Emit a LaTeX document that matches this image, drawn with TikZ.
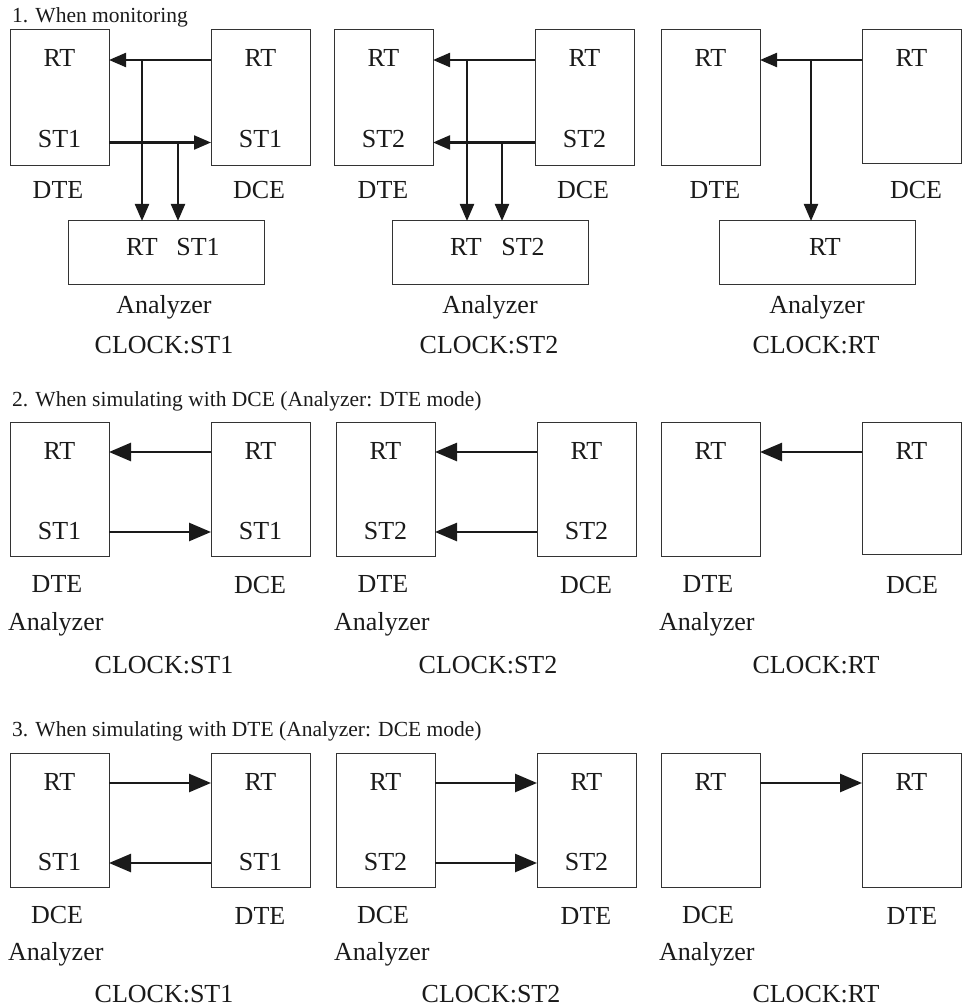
\documentclass[tikz,border=0pt]{standalone}
\usepackage{fontspec}
\setmainfont{Liberation Serif}
\usetikzlibrary{arrows.meta}
\definecolor{ink}{HTML}{1A1A1A}
\definecolor{edge}{HTML}{333333}
\begin{document}
\begin{tikzpicture}[x=1pt,y=-1pt,
  box/.style={draw=edge, line width=1pt, inner sep=0pt, outer sep=0pt, anchor=north west},
  lbl/.style={text=ink, font=\fontsize{26}{30}\selectfont, inner sep=0pt, anchor=base},
  lblw/.style={lbl, anchor=base west},
  ttl/.style={text=ink, font=\fontsize{21.5}{25}\selectfont, inner sep=0pt, anchor=base west},
  monarr/.style={draw=ink, line width=2.2pt, -{Triangle[length=17pt,width=14pt]}},
  simarr/.style={draw=ink, line width=2.6pt, -{Triangle[length=22pt,width=18pt]}},
  dev/.style={box, minimum width=99pt, minimum height=136pt},
  devs/.style={box, minimum width=99pt, minimum height=134pt},
  anl/.style={box, minimum width=196pt, minimum height=63pt}]
\useasboundingbox (0,0) rectangle (962,1008);

% ---------------- Section titles ----------------
\node[ttl] (t1) at (12,22.7) {1. When monitoring};
\node[ttl] (t2) at (12,406.7) {2. When simulating with DCE (Analyzer: DTE mode)};
\node[ttl] (t3) at (12,736.7) {3. When simulating with DTE (Analyzer: DCE mode)};

% ================= Section 1 =================
% panel 1
\begin{scope}[shift={(10,30)}]
\node[dev] (m1L) at (0,0) {};
\node[dev] (m1R) at (201,0) {};
\node[anl] (m1A) at (58,191) {};
\node[lbl] (m1Lrt) at (49.5,37) {RT};
\node[lbl] (m1Lst) at (49.5,117.5) {ST1};
\node[lbl] (m1Rrt) at (250.5,37) {RT};
\node[lbl] (m1Rst) at (250.5,117.5) {ST1};
\node[lbl] (m1Art) at (132,225) {RT};
\node[lbl] (m1Ast) at (188,225) {ST1};
\node[lbl] (m1Ln) at (48,169) {DTE};
\node[lbl] (m1Rn) at (249,169) {DCE};
\node[lbl] (m1An) at (154,283) {Analyzer};
\node[lbl] (m1c) at (154,323) {CLOCK:ST1};
\coordinate (m1j1) at (132,30);
\coordinate (m1j2) at (168,112.5);
\draw[monarr] ([yshift=-30pt]m1R.north west) -- ([yshift=-30pt]m1L.north east);
\draw[monarr] ([yshift=-112.5pt]m1L.north east) -- ([yshift=-112.5pt]m1R.north west);
\draw[monarr] (m1j1) -- (m1j1 |- m1A.north);
\draw[monarr] (m1j2) -- (m1j2 |- m1A.north);
\end{scope}
% panel 2
\begin{scope}[shift={(334,30)}]
\node[dev] (m2L) at (0,0) {};
\node[dev] (m2R) at (201,0) {};
\node[anl] (m2A) at (58,191) {};
\node[lbl] (m2Lrt) at (49.5,37) {RT};
\node[lbl] (m2Lst) at (49.5,117.5) {ST2};
\node[lbl] (m2Rrt) at (250.5,37) {RT};
\node[lbl] (m2Rst) at (250.5,117.5) {ST2};
\node[lbl] (m2Art) at (132,225) {RT};
\node[lbl] (m2Ast) at (189,225) {ST2};
\node[lbl] (m2Ln) at (49,169) {DTE};
\node[lbl] (m2Rn) at (249,169) {DCE};
\node[lbl] (m2An) at (156,283) {Analyzer};
\node[lbl] (m2c) at (155,323) {CLOCK:ST2};
\coordinate (m2j1) at (133,30);
\coordinate (m2j2) at (168,112.5);
\draw[monarr] ([yshift=-30pt]m2R.north west) -- ([yshift=-30pt]m2L.north east);
\draw[monarr] ([yshift=-112.5pt]m2R.north west) -- ([yshift=-112.5pt]m2L.north east);
\draw[monarr] (m2j1) -- (m2j1 |- m2A.north);
\draw[monarr] (m2j2) -- (m2j2 |- m2A.north);
\end{scope}
% panel 3
\begin{scope}[shift={(661,30)}]
\node[dev] (m3L) at (0,0) {};
\node[devs] (m3R) at (201,0) {};
\node[anl] (m3A) at (58,191) {};
\node[lbl] (m3Lrt) at (49.5,37) {RT};
\node[lbl] (m3Rrt) at (250.5,37) {RT};
\node[lbl] (m3Art) at (164,225) {RT};
\node[lbl] (m3Ln) at (54,169) {DTE};
\node[lbl] (m3Rn) at (255,169) {DCE};
\node[lbl] (m3An) at (156,283) {Analyzer};
\node[lbl] (m3c) at (155,323) {CLOCK:RT};
\coordinate (m3j1) at (150,30);
\draw[monarr] ([yshift=-30pt]m3R.north west) -- ([yshift=-30pt]m3L.north east);
\draw[monarr] (m3j1) -- (m3j1 |- m3A.north);
\end{scope}

% ================= Section 2 =================
\begin{scope}[shift={(10,422)}]
\node[devs] (d1L) at (0,0) {};
\node[devs] (d1R) at (201,0) {};
\node[lbl] (d1Lrt) at (49.5,37) {RT};
\node[lbl] (d1Lst) at (49.5,117.5) {ST1};
\node[lbl] (d1Rrt) at (250.5,37) {RT};
\node[lbl] (d1Rst) at (250.5,117.5) {ST1};
\node[lbl] (d1Ln) at (47,170) {DTE};
\node[lbl] (d1Rn) at (250,171) {DCE};
\node[lblw] (d1An) at (-2,208) {Analyzer};
\node[lbl] (d1c) at (154,251) {CLOCK:ST1};
\draw[simarr] ([yshift=-30pt]d1R.north west) -- ([yshift=-30pt]d1L.north east);
\draw[simarr] ([yshift=-110pt]d1L.north east) -- ([yshift=-110pt]d1R.north west);
\end{scope}
\begin{scope}[shift={(336,422)}]
\node[devs] (d2L) at (0,0) {};
\node[devs] (d2R) at (201,0) {};
\node[lbl] (d2Lrt) at (49.5,37) {RT};
\node[lbl] (d2Lst) at (49.5,117.5) {ST2};
\node[lbl] (d2Rrt) at (250.5,37) {RT};
\node[lbl] (d2Rst) at (250.5,117.5) {ST2};
\node[lbl] (d2Ln) at (47,170) {DTE};
\node[lbl] (d2Rn) at (250,171) {DCE};
\node[lblw] (d2An) at (-2,208) {Analyzer};
\node[lbl] (d2c) at (152,251) {CLOCK:ST2};
\draw[simarr] ([yshift=-30pt]d2R.north west) -- ([yshift=-30pt]d2L.north east);
\draw[simarr] ([yshift=-110pt]d2R.north west) -- ([yshift=-110pt]d2L.north east);
\end{scope}
\begin{scope}[shift={(661,422)}]
\node[devs] (d3L) at (0,0) {};
\node[box, minimum width=99pt, minimum height=132pt] (d3R) at (201,0) {};
\node[lbl] (d3Lrt) at (49.5,37) {RT};
\node[lbl] (d3Rrt) at (250.5,37) {RT};
\node[lbl] (d3Ln) at (47,170) {DTE};
\node[lbl] (d3Rn) at (251,171) {DCE};
\node[lblw] (d3An) at (-2,208) {Analyzer};
\node[lbl] (d3c) at (155,251) {CLOCK:RT};
\draw[simarr] ([yshift=-30pt]d3R.north west) -- ([yshift=-30pt]d3L.north east);
\end{scope}

% ================= Section 3 =================
\begin{scope}[shift={(10,753)}]
\node[devs] (e1L) at (0,0) {};
\node[devs] (e1R) at (201,0) {};
\node[lbl] (e1Lrt) at (49.5,37) {RT};
\node[lbl] (e1Lst) at (49.5,117.5) {ST1};
\node[lbl] (e1Rrt) at (250.5,37) {RT};
\node[lbl] (e1Rst) at (250.5,117.5) {ST1};
\node[lbl] (e1Ln) at (47,170) {DCE};
\node[lbl] (e1Rn) at (250,171) {DTE};
\node[lblw] (e1An) at (-2,207) {Analyzer};
\node[lbl] (e1c) at (154,249) {CLOCK:ST1};
\draw[simarr] ([yshift=-30pt]e1L.north east) -- ([yshift=-30pt]e1R.north west);
\draw[simarr] ([yshift=-110pt]e1R.north west) -- ([yshift=-110pt]e1L.north east);
\end{scope}
\begin{scope}[shift={(336,753)}]
\node[devs] (e2L) at (0,0) {};
\node[devs] (e2R) at (201,0) {};
\node[lbl] (e2Lrt) at (49.5,37) {RT};
\node[lbl] (e2Lst) at (49.5,117.5) {ST2};
\node[lbl] (e2Rrt) at (250.5,37) {RT};
\node[lbl] (e2Rst) at (250.5,117.5) {ST2};
\node[lbl] (e2Ln) at (47,170) {DCE};
\node[lbl] (e2Rn) at (250,171) {DTE};
\node[lblw] (e2An) at (-2,207) {Analyzer};
\node[lbl] (e2c) at (155,249) {CLOCK:ST2};
\draw[simarr] ([yshift=-30pt]e2L.north east) -- ([yshift=-30pt]e2R.north west);
\draw[simarr] ([yshift=-110pt]e2L.north east) -- ([yshift=-110pt]e2R.north west);
\end{scope}
\begin{scope}[shift={(661,753)}]
\node[devs] (e3L) at (0,0) {};
\node[devs] (e3R) at (201,0) {};
\node[lbl] (e3Lrt) at (49.5,37) {RT};
\node[lbl] (e3Rrt) at (250.5,37) {RT};
\node[lbl] (e3Ln) at (47,170) {DCE};
\node[lbl] (e3Rn) at (251,171) {DTE};
\node[lblw] (e3An) at (-2,207) {Analyzer};
\node[lbl] (e3c) at (155,249) {CLOCK:RT};
\draw[simarr] ([yshift=-30pt]e3L.north east) -- ([yshift=-30pt]e3R.north west);
\end{scope}
\end{tikzpicture}
\end{document}
